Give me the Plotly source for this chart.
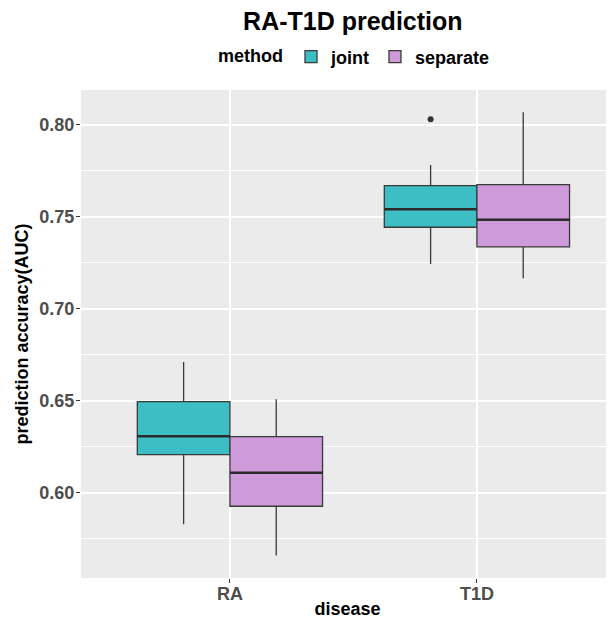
import plotly.graph_objects as go

diseases = ["RA", "T1D"]
methods = ["joint", "separate"]
colors = {"joint": "#3DBDC4", "separate": "#CF9AD9"}

# precomputed box statistics per method, per disease
joint_lower = [0.583, 0.7245]
joint_q1 = [0.6208, 0.7444]
joint_median = [0.6308, 0.7542]
joint_q3 = [0.6496, 0.7670]
joint_upper = [0.6712, 0.7783]
joint_outlier_disease = ["T1D"]
joint_outlier_value = [0.8031]

sep_lower = [0.566, 0.7167]
sep_q1 = [0.5928, 0.7337]
sep_median = [0.6110, 0.7485]
sep_q3 = [0.6306, 0.7676]
sep_upper = [0.6510, 0.8069]

stats = {
    "joint": (joint_lower, joint_q1, joint_median, joint_q3, joint_upper),
    "separate": (sep_lower, sep_q1, sep_median, sep_q3, sep_upper),
}

FONT = "Liberation Sans, Arial, sans-serif"
BOXGAP = 0.25
pos = {d: i for i, d in enumerate(diseases)}
dodge = (1 - BOXGAP) / len(methods)

fig = go.Figure()
for m in methods:
    lo, q1, med, q3, up = stats[m]
    fig.add_trace(go.Box(
        name=m, offsetgroup=m,
        x=[pos[d] for d in diseases],
        lowerfence=lo, q1=q1, median=med, q3=q3, upperfence=up,
        boxpoints=False,
        fillcolor=colors[m],
        line=dict(color="#3A3A3A", width=1.3),
        whiskerwidth=0,
        hoverinfo="skip",
    ))
# thicker median lines (ggplot style), drawn as flat boxes at the median
for m in methods:
    lo, q1, med, q3, up = stats[m]
    fig.add_trace(go.Box(
        name=m, offsetgroup=m, showlegend=False,
        x=[pos[d] for d in diseases],
        lowerfence=med, q1=med, median=med, q3=med, upperfence=med,
        boxpoints=False,
        fillcolor="rgba(0,0,0,0)",
        line=dict(color="#2B2B2B", width=2.4),
        whiskerwidth=0,
        hoverinfo="skip",
    ))

# outlier point, dodged to the joint box position
fig.add_trace(go.Scatter(
    x=[pos[d] - dodge / 2 for d in joint_outlier_disease],
    y=joint_outlier_value,
    mode="markers",
    marker=dict(color="#333333", size=6),
    showlegend=False,
    hoverinfo="skip",
))

W, H = 606, 611
fig.update_layout(
    width=W, height=H,
    margin=dict(l=73, r=0, t=82, b=41, autoexpand=False),
    paper_bgcolor="white",
    plot_bgcolor="#EBEBEB",
    boxmode="group",
    boxgap=BOXGAP,
    boxgroupgap=0,
    font=dict(family=FONT, color="black"),
    title=dict(text="RA-T1D prediction", x=0.51, xref="paper", xanchor="center",
               y=1 - 13 / H, yref="container", yanchor="middle",
               font=dict(size=25, weight="bold", color="black")),
    legend=dict(orientation="h", x=0.515, xanchor="center", y=1.0676, yanchor="middle",
                title=dict(text="method", font=dict(size=18, weight="bold"), side="left"),
                font=dict(size=18, weight="bold"), itemwidth=30,
                bgcolor="rgba(0,0,0,0)"),
    showlegend=True,
)
fig.update_xaxes(
    tickvals=[pos[d] for d in diseases], ticktext=diseases,
    range=[-0.603, 1.555],
    showgrid=True, gridcolor="white", gridwidth=1.5, zeroline=False,
    ticks="outside", ticklen=4, tickcolor="#333333", tickwidth=1,
    tickfont=dict(size=18, weight="bold", color="#4D4D4D"),
    ticklabelstandoff=-5,
    title=dict(text="disease", font=dict(size=18, weight="bold", color="black"), standoff=6),
    showline=False, automargin=False,
)
fig.update_yaxes(
    range=[0.5538, 0.819], tick0=0.6, dtick=0.05, tickformat=".2f",
    showgrid=True, gridcolor="white", gridwidth=1.5, zeroline=False,
    minor=dict(tick0=0.575, dtick=0.025, showgrid=True, gridcolor="white", gridwidth=0.7),
    ticks="outside", ticklen=4, tickcolor="#333333", tickwidth=1,
    tickfont=dict(size=18, weight="bold", color="#4D4D4D"),
    ticklabelstandoff=-2,
    title=dict(text="prediction accuracy(AUC)", font=dict(size=18, weight="bold", color="black"), standoff=6),
    showline=False, automargin=False,
)

fig.write_html("out.html")
